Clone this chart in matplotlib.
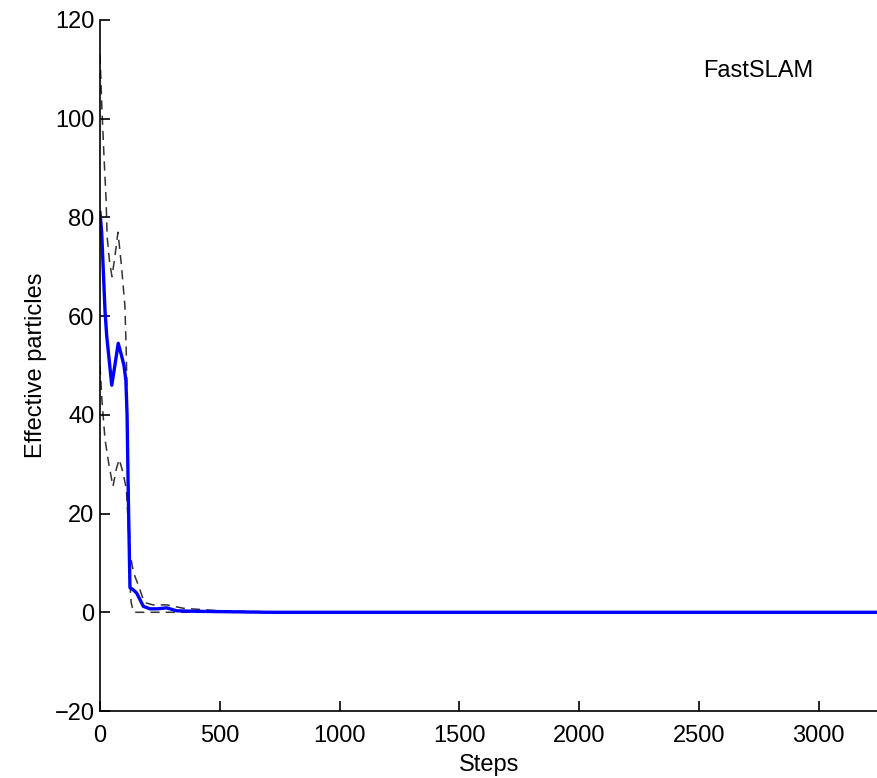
import matplotlib
matplotlib.use("Agg")
import matplotlib.pyplot as plt

# Mean number of effective particles over time and its +/- one std band
mean_steps = [0, 7, 21, 28, 49, 62, 76, 90, 100, 108, 113, 118, 125, 140, 153, 181,
              209, 240, 278, 320, 400, 556, 700, 1000, 1500, 2000, 2500, 3000, 3250]
mean_vals = [81, 77, 61, 56, 46, 50, 54.5, 52, 50, 47, 40, 24, 5, 4.5, 3.9, 1.2,
             0.7, 0.7, 0.9, 0.3, 0.2, 0.1, 0, 0, 0, 0, 0, 0, 0]

upper_steps = [0, 8, 17, 25, 30, 40, 50, 62, 75, 90, 104, 110, 117, 125, 140, 160,
               185, 220, 278, 350, 500, 700, 1000, 2000, 3250]
upper_vals = [113, 102, 92, 84, 76, 71, 68, 72, 77, 70, 62, 52, 30, 12, 8, 5.5,
              2, 1.5, 1.5, 0.8, 0.3, 0.1, 0, 0, 0]

lower_steps = [0, 8, 21, 37, 54, 68, 80, 95, 110, 118, 125, 130, 140, 170, 250,
               500, 1000, 2000, 3250]
lower_vals = [50, 43, 35, 30, 25.5, 29, 31, 28.5, 25, 18, 6, 2, 0, 0, 0,
              0, 0, 0, 0]

x_ticks = [0, 500, 1000, 1500, 2000, 2500, 3000]
y_ticks = [-20, 0, 20, 40, 60, 80, 100, 120]

plt.rcParams['font.family'] = ['Liberation Sans', 'DejaVu Sans']
FS = 17

fig = plt.figure(figsize=(8.78, 7.78), dpi=100)
ax = fig.add_axes([100 / 878, 67 / 778, 1 - 100 / 878, 691 / 778])

ax.plot(upper_steps, upper_vals, color='black', lw=1.1, ls=(0, (6, 4)), alpha=0.8)
ax.plot(lower_steps, lower_vals, color='black', lw=1.1, ls=(0, (6, 4)), alpha=0.8)
ax.plot(mean_steps, mean_vals, color='#0000ff', lw=2.4)

ax.set_xlim(0, 3247)
ax.set_ylim(-20, 120)
ax.set_xticks(x_ticks)
ax.set_yticks(y_ticks)

for side in ('top', 'right'):
    ax.spines[side].set_visible(False)
for side in ('left', 'bottom'):
    ax.spines[side].set_linewidth(1.2)

ax.tick_params(direction='in', length=7, width=1.2, labelsize=FS)
ax.tick_params(axis='x', pad=10)
ax.tick_params(axis='y', pad=4)
ax.set_xlabel('Steps', fontsize=FS, labelpad=5)
ax.set_ylabel('Effective particles', fontsize=FS, labelpad=5)

ax.text(0.846, 0.926, 'FastSLAM', transform=ax.transAxes, fontsize=FS,
        ha='center', va='center')

fig.savefig('out.png', dpi=100)
